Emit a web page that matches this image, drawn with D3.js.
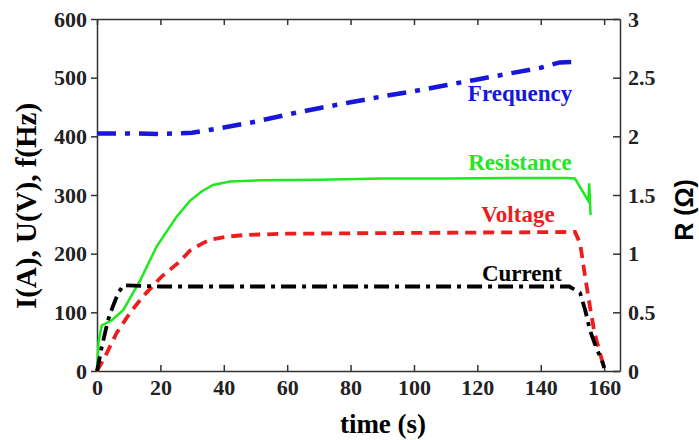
<!DOCTYPE html>
<html>
<head>
    <meta charset="utf-8">
    <title>I, U, f, R vs time</title>
    <script src="https://d3js.org/d3.v7.min.js"></script>
    <style>
        body { margin: 0; background: #fff; }
        .axis text { font-family: "Liberation Serif", "Times New Roman", serif; font-weight: bold; font-size: 22px; fill: #222; }
        .axis path, .axis line { stroke: #333; stroke-width: 1.5; }
    </style>
</head>
<body>
<svg id="chart" width="699" height="440"></svg>

<script>
    // Частота (Гц)
    var freqT = [0, 10, 20, 30, 40, 50, 60, 70, 80, 90, 100, 110, 120, 130, 140, 146, 152];
    var freqV = [405, 405, 404, 406, 415, 425, 437, 448, 458, 468, 477, 487, 497, 507, 517, 526, 527];

    // Сопротивление (Ом), правая ось
    var resT = [0, 0.5, 1.5, 4.6, 8.3, 13.6, 18.8, 25, 29.3, 33, 36.6, 42, 52, 70, 90, 110, 130, 148, 150.8, 155, 155.3, 155.7];
    var resV = [0, 0.25, 0.39, 0.43, 0.52, 0.77, 1.06, 1.31, 1.45, 1.53, 1.585, 1.615, 1.625, 1.63, 1.64, 1.64, 1.645, 1.645, 1.64, 1.45, 1.6, 1.33];

    // Напряжение (В)
    var voltT = [0, 2.5, 6.2, 10.4, 14.5, 20.4, 26, 29.3, 33.4, 36, 41, 47, 60, 89, 120, 150.8, 152.4, 154, 155.5, 157, 159.6, 160];
    var voltV = [0, 24, 65, 99, 127, 161, 186, 205, 218, 224, 229, 232, 234, 235, 236, 237, 218, 161, 110, 64, 13, 2];

    // Ток (А)
    var currT = [0, 1.5, 3.5, 5, 6.7, 8.3, 20, 60, 100, 149, 152.4, 154, 155.5, 157, 159.6, 160];
    var currV = [0, 41, 87, 110, 133, 146, 144, 144, 144, 144, 133, 104, 70, 47, 13, 5];

    var xTicks = [0, 20, 40, 60, 80, 100, 120, 140, 160];
    var yTicks = [0, 100, 200, 300, 400, 500, 600];
    var rTicks = [0, 0.5, 1, 1.5, 2, 2.5, 3];

    var svg = d3.select("#chart");

    var x = d3.scaleLinear().domain([0, 165]).range([97, 620]);
    var y = d3.scaleLinear().domain([0, 600]).range([371, 19]);
    var yR = d3.scaleLinear().domain([0, 3]).range([371, 19]);

    // Оси
    svg.append("g").attr("class", "axis")
        .attr("transform", "translate(0,371)")
        .call(d3.axisBottom(x).tickValues(xTicks).tickSize(-6).tickSizeOuter(0).tickPadding(8));
    svg.append("g").attr("class", "axis")
        .attr("transform", "translate(0,19)")
        .call(d3.axisTop(x).tickValues(xTicks).tickSize(-6).tickSizeOuter(0).tickFormat(""));
    svg.append("g").attr("class", "axis")
        .attr("transform", "translate(97,0)")
        .call(d3.axisLeft(y).tickValues(yTicks).tickSize(6).tickSizeOuter(0).tickPadding(4));
    svg.append("g").attr("class", "axis")
        .attr("transform", "translate(620,0)")
        .call(d3.axisRight(yR).tickValues(rTicks).tickSize(-7).tickSizeOuter(0).tickPadding(8)
            .tickFormat(d3.format("~g")));

    function zip(t, v) { return t.map(function(d, i) { return [d, v[i]]; }); }

    var lineL = d3.line().x(function(d) { return x(d[0]); }).y(function(d) { return y(d[1]); });
    var lineR = d3.line().x(function(d) { return x(d[0]); }).y(function(d) { return yR(d[1]); });

    var plot = svg.append("g");

    plot.append("path").attr("d", lineL(zip(freqT, freqV)))
        .style("fill", "none").style("stroke", "#1616dc").style("stroke-width", 4.5)
        .style("stroke-dasharray", "19,9,5,9");

    plot.append("path").attr("d", lineR(zip(resT, resV)))
        .style("fill", "none").style("stroke", "#1fe81f").style("stroke-width", 2.5);

    plot.append("path").attr("d", lineL(zip(voltT, voltV)))
        .style("fill", "none").style("stroke", "#ee1c1c").style("stroke-width", 3.8)
        .style("stroke-dasharray", "11,7");

    plot.append("path").attr("d", lineL(zip(currT, currV)))
        .style("fill", "none").style("stroke", "#000").style("stroke-width", 3.8)
        .style("stroke-dasharray", "15,6,4,6");

    // Подписи серий
    var labels = [
        { text: "Frequency", color: "#1616dc", x: 520, y: 101 },
        { text: "Resistance", color: "#1fe81f", x: 520, y: 170 },
        { text: "Voltage", color: "#ee1c1c", x: 518, y: 222 },
        { text: "Current", color: "#000", x: 522, y: 281 }
    ];
    svg.selectAll(".lbl").data(labels).enter().append("text")
        .attr("x", function(d) { return d.x; })
        .attr("y", function(d) { return d.y; })
        .attr("text-anchor", "middle")
        .style("font-family", "'Liberation Serif', serif")
        .style("font-weight", "bold")
        .style("font-size", "23px")
        .style("fill", function(d) { return d.color; })
        .text(function(d) { return d.text; });

    // Заголовки осей
    svg.append("text")
        .attr("transform", "translate(36,206) rotate(-90)")
        .attr("text-anchor", "middle")
        .style("font-family", "'Liberation Serif', serif")
        .style("font-weight", "bold").style("font-size", "29px")
        .text("I(A), U(V), f(Hz)");

    svg.append("text")
        .attr("transform", "translate(693,210) rotate(-90)")
        .attr("text-anchor", "middle")
        .style("font-family", "'Liberation Sans', Arial, sans-serif")
        .style("font-weight", "bold").style("font-size", "25px")
        .text("R (Ω)");

    svg.append("text")
        .attr("x", 383).attr("y", 433)
        .attr("text-anchor", "middle")
        .style("font-family", "'Liberation Serif', serif")
        .style("font-weight", "bold").style("font-size", "27px")
        .text("time (s)");
</script>
</body>
</html>
